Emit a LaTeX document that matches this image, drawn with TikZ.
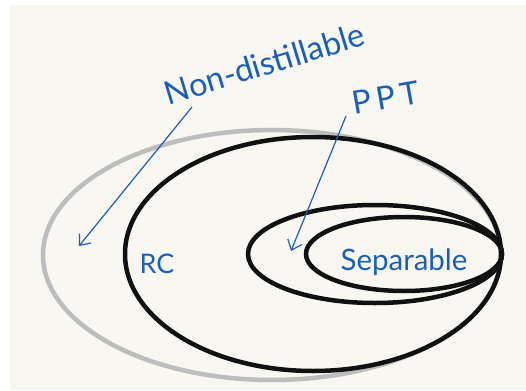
\documentclass[tikz,border=0pt]{standalone}
\usepackage{fontspec}
\setmainfont{Lato}
\usetikzlibrary{shapes.geometric,arrows.meta}
\definecolor{ink}{HTML}{1B5EB8}
\definecolor{paper}{HTML}{F9F7F1}
\definecolor{ring}{HTML}{BDBDBD}
\definecolor{dark}{HTML}{111111}
\tikzset{
  setring/.style={ellipse, draw, line width=4.5pt, inner sep=0pt, outer sep=0pt},
  hand/.style={text=ink, inner sep=0pt, anchor=base},
  pointer/.style={draw=ink, line width=1.2pt, -{Straight Barb[length=9pt,width=15pt]}},
}
\begin{document}
\begin{tikzpicture}[x=1pt,y=-1pt]
\useasboundingbox (0,0) rectangle (526,390);
\fill[white] (0,0) rectangle (526,390);
\fill[paper] (10,5) rectangle (526,390);
% sets
\node[setring, draw=ring, minimum width=458pt, minimum height=250pt] (nd) at (272,255) {};
\node[setring, draw=dark, minimum width=376pt, minimum height=234pt] (rc) at (313,254) {};
\node[setring, draw=dark, minimum width=254pt, minimum height=98pt] (ppt) at (375,254) {};
\node[setring, draw=dark, minimum width=196pt, minimum height=74pt] (sep) at (404,254) {};
% labels
\node[hand, font=\fontsize{32.5}{32.5}\selectfont, rotate=17] (ndl) at (268,75) {Non-distillable};
\node[hand, font=\fontsize{32}{32}\selectfont, rotate=10] (pptl) at (388,109) {P\,P\,T};
\node[hand, font=\fontsize{27}{27}\selectfont] (rcl) at (157,273) {RC};
\node[hand, font=\fontsize{29.5}{29.5}\selectfont] (sepl) at (404,270) {Separable};
% arrows
\coordinate (nds) at (192,107);
\coordinate (ndt) at (79,246);
\coordinate (ppts) at (346,116);
\coordinate (pptt) at (291,251);
\draw[pointer] (nds) -- (ndt);
\draw[pointer] (ppts) -- (pptt);
\end{tikzpicture}
\end{document}
